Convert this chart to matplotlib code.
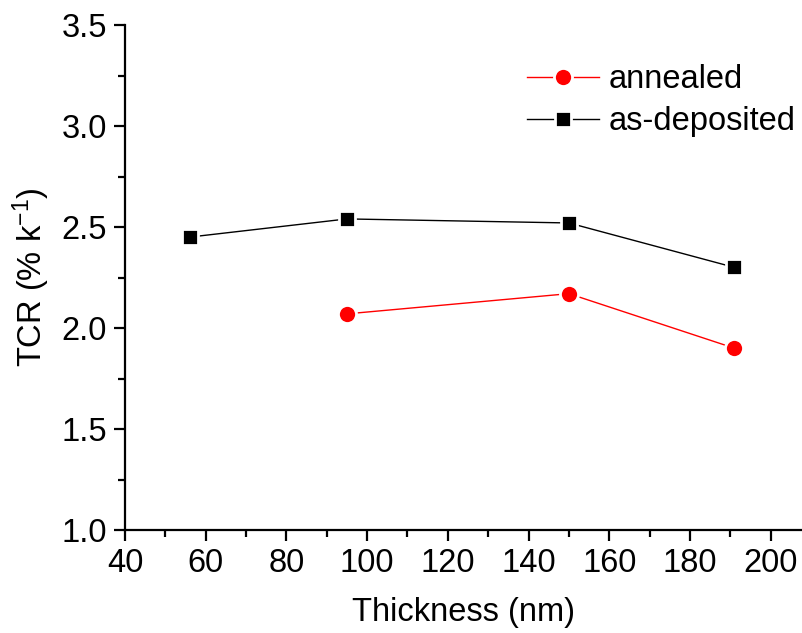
import matplotlib
matplotlib.use("Agg")
import matplotlib.pyplot as plt
from matplotlib.ticker import MultipleLocator, FormatStrFormatter

plt.rcParams['font.family'] = ['Liberation Sans', 'DejaVu Sans']
plt.rcParams['mathtext.default'] = 'regular'

# Film thickness (nm) and temperature coefficient of resistance (% / K)
thick_asdep = [56, 95, 150, 191]
tcr_asdep = [2.45, 2.54, 2.52, 2.30]
thick_ann = [95, 150, 191]
tcr_ann = [2.07, 2.17, 1.90]

FS = 23.5

fig = plt.figure(figsize=(8.03, 6.33), dpi=100)
ax = fig.add_axes([125 / 803, 103 / 633, 1 - 125 / 803, (530 - 25) / 633])

ax.plot(thick_ann, tcr_ann, color='red', lw=1.0, marker='o', markersize=13,
        markerfacecolor='red', markeredgecolor='white', markeredgewidth=2.0,
        label='annealed', zorder=3)
ax.plot(thick_asdep, tcr_asdep, color='black', lw=1.0, marker='s', markersize=11.5,
        markerfacecolor='black', markeredgecolor='white', markeredgewidth=2.0,
        label='as-deposited', zorder=3)

ax.set_xlim(40, 208)
ax.set_ylim(1.0, 3.5)
ax.xaxis.set_major_locator(MultipleLocator(20))
ax.xaxis.set_minor_locator(MultipleLocator(10))
ax.yaxis.set_major_locator(MultipleLocator(0.5))
ax.yaxis.set_minor_locator(MultipleLocator(0.25))
ax.yaxis.set_major_formatter(FormatStrFormatter('%.1f'))

for s in ('top', 'right'):
    ax.spines[s].set_visible(False)
for s in ('left', 'bottom'):
    ax.spines[s].set_linewidth(1.6)

ax.tick_params(which='major', direction='out', length=8, width=1.6, labelsize=FS, pad=5)
ax.tick_params(which='minor', direction='out', length=5, width=1.6)

ax.set_xlabel('Thickness (nm)', fontsize=FS, labelpad=13)
ax.set_ylabel('TCR (% k$^{-1}$)', fontsize=FS, labelpad=7)

leg = ax.legend(loc='upper left', bbox_to_anchor=(0.593, 0.922), frameon=False,
                fontsize=FS, handlelength=2.2, handletextpad=0.3, labelspacing=0.33,
                borderpad=0, borderaxespad=0)

fig.savefig('out.png', dpi=100)
